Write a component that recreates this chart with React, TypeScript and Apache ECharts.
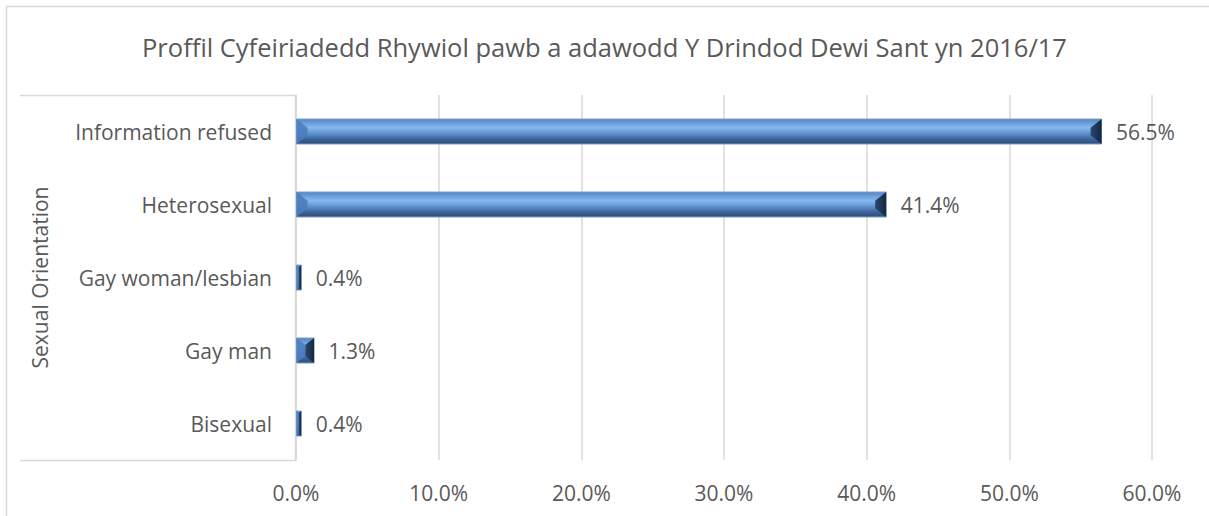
import React, { useEffect, useRef } from "react";
import * as echarts from "echarts";

const titleText = "Proffil Cyfeiriadedd Rhywiol pawb a adawodd Y Drindod Dewi Sant yn 2016/17";
const axisTitle = "Sexual Orientation";
const categories = ["Bisexual", "Gay man", "Gay woman/lesbian", "Heterosexual", "Information refused"];
const values = [0.4, 1.3, 0.4, 41.4, 56.5];
const xTicks = { min: 0, max: 60, interval: 10 };

const FONT = "'Open Sans', 'Noto Sans', sans-serif";
const TEXT = "#595959";
const BAR_H = 26;

export default function App() {
  const ref = useRef<HTMLDivElement>(null);
  useEffect(() => {
    document.body.style.margin = "0";
    const chart = echarts.init(ref.current!, null, { renderer: "svg" });
    const gradient = new echarts.graphic.LinearGradient(0, 0, 0, 1, [
      { offset: 0, color: "#5382c0" },
      { offset: 0.15, color: "#6b9cda" },
      { offset: 0.35, color: "#86b9ef" },
      { offset: 0.6, color: "#5c8ecc" },
      { offset: 0.8, color: "#3f659a" },
      { offset: 1, color: "#2c4a76" },
    ]);
    const rightBevel = new echarts.graphic.LinearGradient(0, 0, 1, 0, [
      { offset: 0, color: "#2a4870" },
      { offset: 1, color: "#15273f" },
    ]);
    const bevelData = values.map((v, i) => [v, i]);
    chart.setOption({
      animation: false,
      backgroundColor: "#ffffff",
      textStyle: { fontFamily: FONT },
      title: {
        text: titleText,
        left: "center",
        top: 29,
        textStyle: { fontFamily: FONT, fontSize: 25.5, fontWeight: "normal", color: TEXT },
      },
      graphic: [
        {
          type: "rect",
          shape: { x: 6.5, y: 6.5, width: 1220, height: 530 },
          style: { fill: "none", stroke: "#d9d9d9", lineWidth: 1.5 },
          silent: true,
        },
        {
          type: "polyline",
          shape: { points: [[20, 95.5], [295.5, 95.5], [295.5, 460.5], [20, 460.5]] },
          style: { fill: "none", stroke: "#d9d9d9", lineWidth: 1.5 },
          silent: true,
        },
      ],
      grid: { left: 296, right: 57, top: 95, bottom: 56, containLabel: false },
      xAxis: {
        type: "value",
        min: xTicks.min,
        max: xTicks.max,
        interval: xTicks.interval,
        axisLine: { show: false },
        axisTick: { show: false },
        splitLine: { show: true, lineStyle: { color: "#d9d9d9", width: 1.5 } },
        axisLabel: {
          color: TEXT,
          fontSize: 21,
          fontFamily: FONT,
          margin: 22,
          formatter: (v: number) => v.toFixed(1) + "%",
        },
      },
      yAxis: {
        type: "category",
        data: categories,
        name: axisTitle,
        nameLocation: "middle",
        nameGap: 246,
        nameRotate: 90,
        nameTextStyle: { color: TEXT, fontSize: 21, fontFamily: FONT },
        axisLine: { show: true, lineStyle: { color: "#d9d9d9", width: 1.5 } },
        axisTick: { show: false },
        axisLabel: { color: TEXT, fontSize: 21, fontFamily: FONT, margin: 24 },
      },
      series: [
        {
          type: "bar",
          data: values,
          barWidth: BAR_H,
          z: 2,
          itemStyle: { color: gradient, borderColor: "#7f9fcc", borderWidth: 1 },
          label: {
            show: true,
            position: "right",
            distance: 14,
            color: TEXT,
            fontSize: 21,
            fontFamily: FONT,
            formatter: (p: any) => Number(p.value).toFixed(1) + "%",
          },
        },
        {
          type: "custom",
          z: 3,
          silent: true,
          data: bevelData,
          encode: { x: 0, y: 1 },
          renderItem: (params: any, api: any) => {
            const v = api.value(0);
            const idx = api.value(1);
            const start = api.coord([0, idx]);
            const end = api.coord([v, idx]);
            const x0 = start[0] + 0.5;
            const x1 = end[0] - 0.5;
            const yc = start[1];
            const y0 = yc - BAR_H / 2 + 0.5;
            const y1 = yc + BAR_H / 2 - 0.5;
            const w = x1 - x0;
            const b = Math.min(11, w / 2);
            const inner = Math.min(b * 0.8, (y1 - y0) / 2 - 2);
            return {
              type: "group",
              children: [
                {
                  type: "polygon",
                  shape: {
                    points: [[x0, y0], [x0 + b, y0 + inner], [x0 + b, y1 - inner], [x0, y1]],
                  },
                  style: { fill: "#4a7dbf", opacity: 0.9 },
                },
                {
                  type: "polygon",
                  shape: {
                    points: [[x1, y0], [x1 - b, y0 + inner], [x1 - b, y1 - inner], [x1, y1]],
                  },
                  style: { fill: rightBevel },
                },
              ],
            };
          },
        },
      ],
    });
    return () => chart.dispose();
  }, []);
  return <div ref={ref} style={{ width: 1209, height: 516 }} />;
}
